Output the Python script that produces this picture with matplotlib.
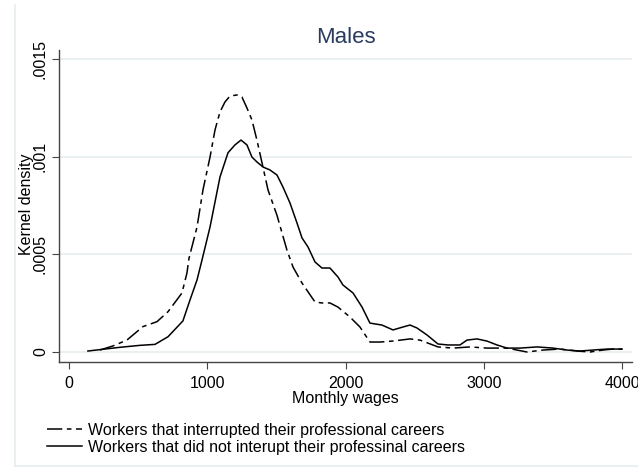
import numpy as np
import matplotlib
matplotlib.use("Agg")
import matplotlib.pyplot as plt
from matplotlib.lines import Line2D

plt.rcParams['font.family'] = ['Liberation Sans', 'DejaVu Sans']

# kernel density: workers that did not interrupt (solid)
wage_cont = [137, 246, 369, 513, 622, 716, 824, 875, 926, 962, 1020, 1092, 1150,
             1200, 1244, 1287, 1323, 1359, 1403, 1453, 1504, 1547, 1598, 1649,
             1685, 1728, 1779, 1829, 1887, 1945, 1981, 2054, 2119, 2176, 2263,
             2343, 2415, 2466, 2516, 2589, 2668, 2740, 2827, 2878, 2950, 3022,
             3095, 3167, 3261, 3384, 3500, 3601, 3695, 3789, 3890, 3999]
dens_cont = [0.000005, 0.000014, 0.000024, 0.000034, 0.000039, 0.000078,
             0.000159, 0.000266, 0.000369, 0.000471, 0.00064, 0.000896,
             0.00102, 0.00106, 0.001085, 0.00106, 0.000998, 0.000973,
             0.000947, 0.000932, 0.000906, 0.000845, 0.000763, 0.00066,
             0.000584, 0.000538, 0.000461, 0.00043, 0.00043, 0.000384,
             0.000343, 0.000302, 0.00023, 0.000148, 0.000138, 0.000113,
             0.000128, 0.000138, 0.000123, 0.000087, 0.000041, 0.000036,
             0.000036, 0.000061, 0.000067, 0.000056, 0.000036, 0.00002,
             0.00002, 0.000026, 0.00002, 0.00001, 0.000005, 0.00001,
             0.000015, 0.000015]

# workers that interrupted their careers (dashed)
wage_int = [224, 318, 419, 535, 636, 716, 817, 853, 868, 926, 969, 1020, 1056,
            1092, 1128, 1164, 1215, 1251, 1287, 1323, 1359, 1396, 1439, 1504,
            1576, 1620, 1685, 1779, 1829, 1887, 1945, 2032, 2104, 2176, 2249,
            2343, 2466, 2538, 2668, 2777, 2900, 3022, 3167, 3312, 3427, 3550,
            3673, 3767, 3861, 3933, 3999]
dens_int = [0.00001, 0.000031, 0.000061, 0.00013, 0.000155, 0.000206,
            0.000302, 0.000404, 0.00048, 0.00064, 0.00083, 0.000998,
            0.001137, 0.001229, 0.00128, 0.00131, 0.001316, 0.001305,
            0.001249, 0.001188, 0.001085, 0.000968, 0.00083, 0.0007,
            0.000522, 0.000435, 0.000353, 0.000256, 0.000251, 0.000251,
            0.00023, 0.000179, 0.000128, 0.000051, 0.000051, 0.000056,
            0.000067, 0.000061, 0.000026, 0.00002, 0.000026, 0.00002,
            0.00002, 0.0, 0.00001, 0.000015, 0.000005, 0.0, 0.00001,
            0.000015, 0.000015]

xticks = [0, 1000, 2000, 3000, 4000]
yticks = [0, 0.0005, 0.001, 0.0015]
ytick_labels = ['0', '.0005', '.001', '.0015']
labels = ['Workers that interrupted their professional careers',
          'Workers that did not interupt their professinal careers']

dash = (0, (10, 3, 3, 3))
grid_col = '#e6eef0'
fs = 11.5

fig = plt.figure(figsize=(6.38, 4.67), dpi=100)
fig.patch.set_facecolor('white')
ax = fig.add_axes([59 / 638, 1 - 362 / 467, (632 - 59) / 638, (362 - 50) / 467])

ax.plot(wage_int, dens_int, color='black', lw=1.1, linestyle=dash)
ax.plot(wage_cont, dens_cont, color='black', lw=1.1)

ax.set_xlim(-72, 4071)
ax.set_ylim(-0.0000512, 0.001546)
ax.set_xticks(xticks)
ax.set_xticklabels([str(t) for t in xticks], fontsize=fs)
ax.set_yticks(yticks)
ax.set_yticklabels(ytick_labels, fontsize=fs, rotation=90, va='center')
ax.yaxis.grid(True, color=grid_col, lw=1.2)
ax.set_axisbelow(True)

for s in ['top', 'right']:
    ax.spines[s].set_visible(False)
for s in ['left', 'bottom']:
    ax.spines[s].set_color('#444444')
    ax.spines[s].set_linewidth(1.0)
ax.tick_params(direction='out', length=5, width=0.8, color='#444444')
ax.tick_params(axis='x', pad=5)
ax.tick_params(axis='y', pad=3)

ax.set_title('Males', fontsize=16, color='#2a3b5f', pad=5)
ax.set_xlabel('Monthly wages', fontsize=fs, labelpad=0)
fig.text(27 / 638, 1 - 204 / 467, 'Kernel density', rotation=90,
         fontsize=fs, ha='center', va='center')

handles = [Line2D([], [], color='black', lw=1.1, linestyle=dash),
           Line2D([], [], color='black', lw=1.1)]
fig.legend(handles, labels, loc='upper left',
           bbox_to_anchor=(47 / 638, 1 - 423 / 467), frameon=False,
           fontsize=fs, handlelength=2.2, handletextpad=0.35,
           labelspacing=0.1, borderpad=0, borderaxespad=0)

# faint outer frame (left and bottom edges)
fig.add_artist(Line2D([15 / 638, 15 / 638], [1 - 5 / 467, 1 - 466 / 467],
                      color=grid_col, lw=1.2))
fig.add_artist(Line2D([15 / 638, 1], [1 - 466 / 467, 1 - 466 / 467],
                      color=grid_col, lw=1.2))

fig.savefig('out.png', dpi=100)
